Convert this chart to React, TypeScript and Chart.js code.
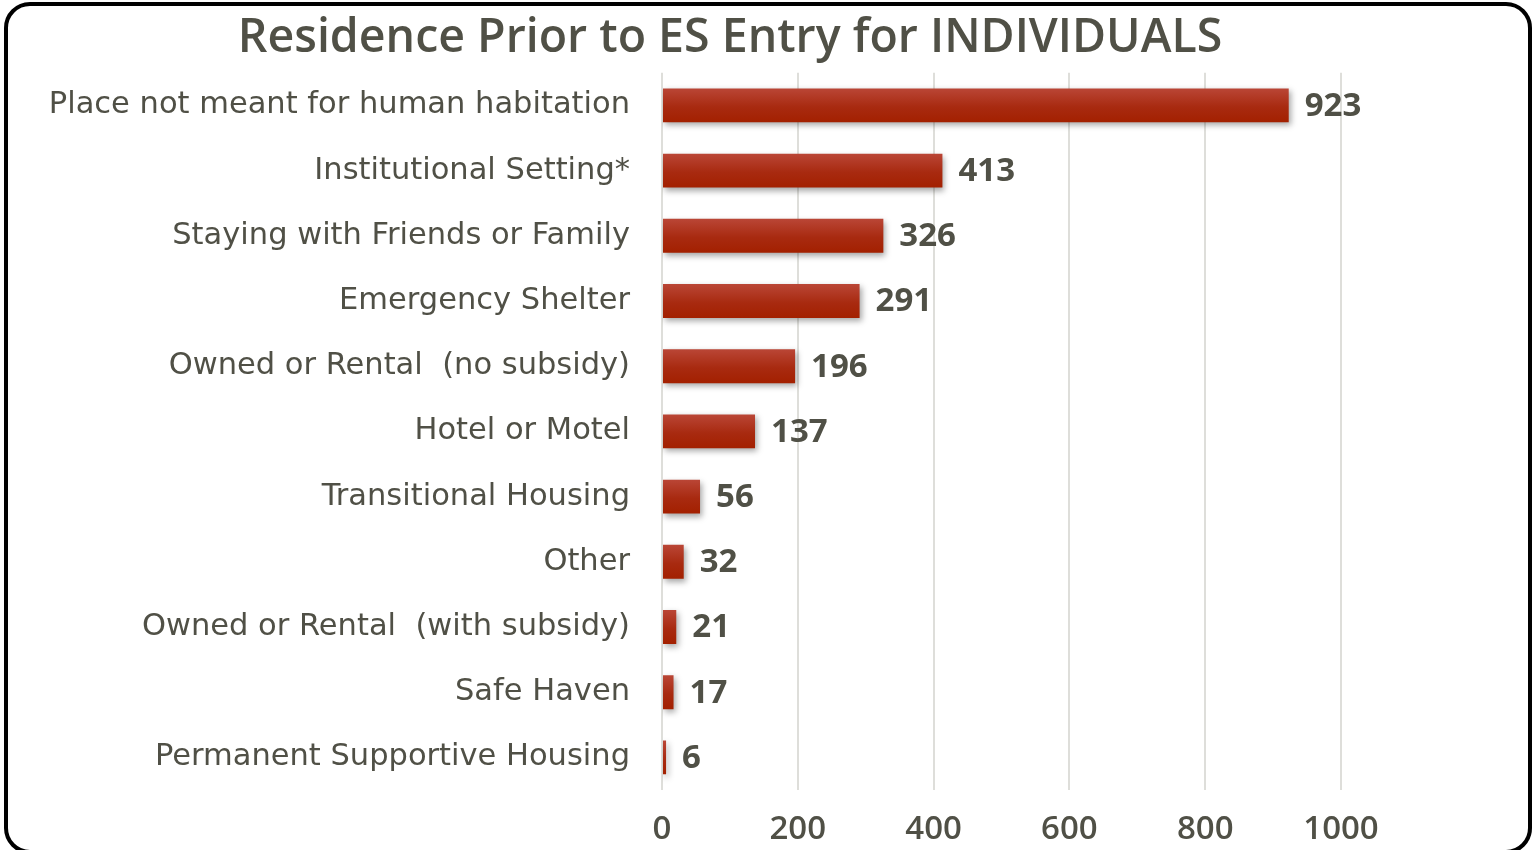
import React, { useEffect, useRef } from "react";
import { Chart, registerables } from "chart.js";

Chart.register(...registerables);

const categories = [
  "Place not meant for human habitation",
  "Institutional Setting*",
  "Staying with Friends or Family",
  "Emergency Shelter",
  "Owned or Rental  (no subsidy)",
  "Hotel or Motel",
  "Transitional Housing",
  "Other",
  "Owned or Rental  (with subsidy)",
  "Safe Haven",
  "Permanent Supportive Housing",
];
const values = [923, 413, 326, 291, 196, 137, 56, 32, 21, 17, 6];
const xTicks = [0, 200, 400, 600, 800, 1000];
const titleText = "Residence Prior to ES Entry for INDIVIDUALS";

const FONT = "'Open Sans', 'Noto Sans', sans-serif";
const CAT_FONT = "'DejaVu Sans', 'Open Sans', sans-serif";
const TEXT = "#505046";

export default function App() {
  const ref = useRef<HTMLCanvasElement | null>(null);

  useEffect(() => {
    const canvas = ref.current;
    if (!canvas) return;

    const shadowPlugin = {
      id: "barShadow",
      beforeDatasetsDraw(chart: any) {
        const c = chart.ctx;
        c.save();
        c.shadowColor = "rgba(0,0,0,0.35)";
        c.shadowBlur = 6;
        c.shadowOffsetX = 2;
        c.shadowOffsetY = 3;
      },
      afterDatasetsDraw(chart: any) {
        chart.ctx.restore();
      },
    };

    const labelPlugin = {
      id: "valueLabels",
      afterDraw(chart: any) {
        const c = chart.ctx;
        const meta = chart.getDatasetMeta(0);
        c.save();
        c.font = `bold 33px ${FONT}`;
        c.fillStyle = TEXT;
        c.textAlign = "left";
        c.textBaseline = "middle";
        meta.data.forEach((el: any, i: number) => {
          c.fillText(String(values[i]), el.x + 16, el.y + 1);
        });
        c.restore();
      },
    };

    const chart = new Chart(canvas, {
      type: "bar",
      data: {
        labels: categories,
        datasets: [
          {
            data: values,
            categoryPercentage: 1,
            barPercentage: 0.52,
            borderWidth: 0,
            backgroundColor: (ctx: any) => {
              const ch = ctx.chart;
              const ys = ch.scales && ch.scales.y;
              if (!ys || ctx.dataIndex === undefined) return "#a82a10";
              const center = ys.getPixelForValue(ctx.dataIndex);
              const half = ((ys.bottom - ys.top) / categories.length) * 0.52 / 2;
              if (!isFinite(center) || !isFinite(half) || half <= 0) return "#a82a10";
              const g = ch.ctx.createLinearGradient(0, center - half, 0, center + half);
              g.addColorStop(0, "#ba4636");
              g.addColorStop(0.55, "#a82a10");
              g.addColorStop(1, "#a32000");
              return g;
            },
          },
        ],
      },
      options: {
        indexAxis: "y",
        responsive: false,
        animation: false,
        layout: { padding: { left: 0, right: 76, top: 11, bottom: 0 } },
        plugins: {
          legend: { display: false },
          tooltip: { enabled: false },
          title: {
            display: true,
            text: titleText,
            color: TEXT,
            font: { family: FONT, size: 46.5, weight: "600" },
            padding: { top: 0, bottom: 6 },
          },
        },
        scales: {
          x: {
            min: 0,
            max: 1000,
            afterBuildTicks: (scale: any) => {
              scale.ticks = xTicks.map((v) => ({ value: v }));
            },
            afterFit: (scale: any) => {
              scale.height = 60;
            },
            grid: { color: "#dededa", lineWidth: 2, drawTicks: false },
            border: { display: false },
            ticks: {
              color: TEXT,
              padding: 20,
              font: { family: FONT, size: 33, weight: "600" },
              callback: (v: any) => String(v),
            },
          },
          y: {
            afterFit: (scale: any) => {
              scale.width = 662;
            },
            grid: { display: false, drawTicks: false },
            border: { display: false },
            ticks: {
              color: TEXT,
              padding: 32,
              autoSkip: false,
              font: { family: CAT_FONT, size: 30.5 },
            },
          },
          yRight: {
            type: "category",
            position: "right",
            display: true,
            afterFit: (scale: any) => {
              scale.width = 119;
            },
            grid: { display: false, drawTicks: false },
            border: { display: false },
            ticks: { display: false },
          },
        },
      },
      plugins: [shadowPlugin, labelPlugin],
    });

    return () => chart.destroy();
  }, []);

  return (
    <div
      style={{
        position: "fixed",
        left: 0,
        top: 0,
        width: 1536,
        height: 850,
        background: "#ffffff",
        overflow: "hidden",
      }}
    >
      <canvas
        ref={ref}
        width={1536}
        height={850}
        style={{ position: "absolute", left: 0, top: 0, width: 1536, height: 850 }}
      />
      <div
        style={{
          position: "absolute",
          left: 4,
          top: 2,
          width: 1528,
          height: 852,
          boxSizing: "border-box",
          border: "4px solid #000",
          borderRadius: 26,
          pointerEvents: "none",
        }}
      />
    </div>
  );
}
